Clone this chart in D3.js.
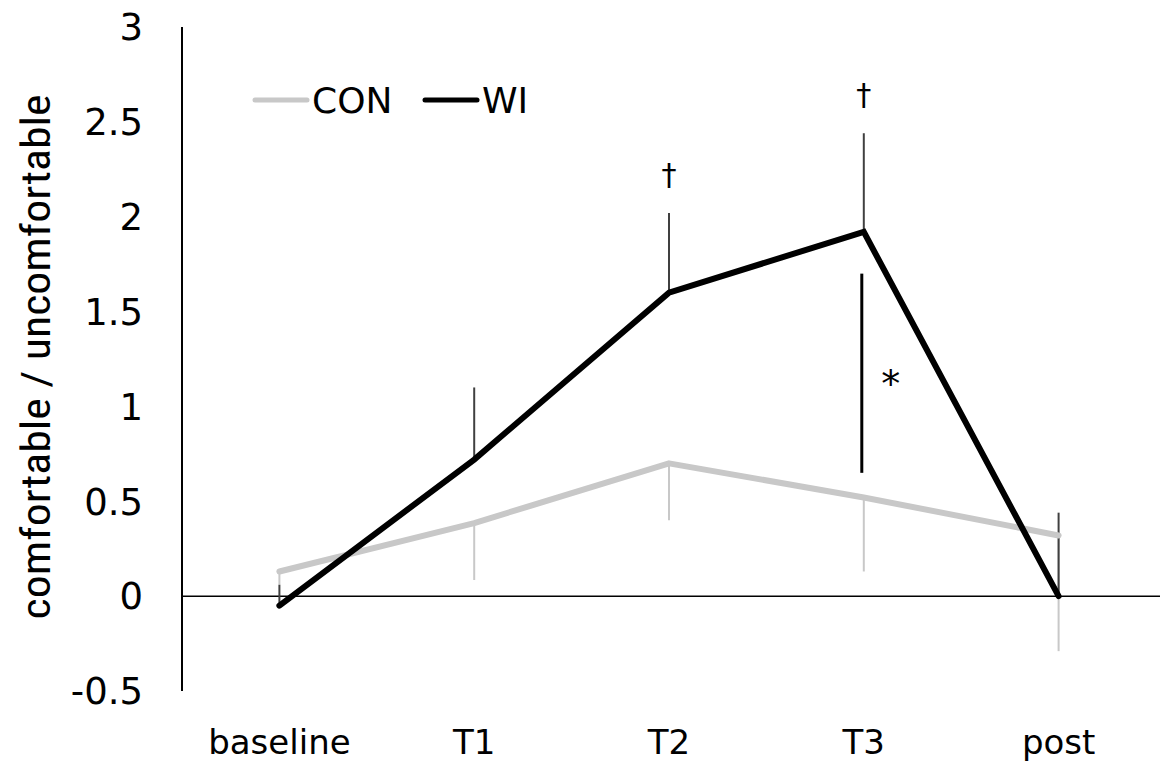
<!DOCTYPE html>
<html>
<head>
<meta charset="utf-8">
<script src="https://cdn.jsdelivr.net/npm/d3@7"></script>
<style>
  body { margin: 0; background: #fff; }
  text { font-family: "DejaVu Sans", Verdana, sans-serif; fill: #000; }
</style>
</head>
<body>
<div id="chart"></div>
<script>
// chart data
var categories = ["baseline", "T1", "T2", "T3", "post"];
var conValues = [0.13, 0.385, 0.70, 0.52, 0.32];
var conErrLow = [0.07, 0.30, 0.30, 0.39, 0.61];   // error drawn downward
var wiValues = [-0.05, 0.72, 1.60, 1.92, 0];
var wiErrHigh = [0.11, 0.38, 0.42, 0.52, 0.44];   // error drawn upward
var yTicks = [-0.5, 0, 0.5, 1, 1.5, 2, 2.5, 3];
var daggers = ["", "", "†", "†", ""];
var sigRange = [0.65, 1.7]; // significance bar at T3

var svgWidth = 1161;
var svgHeight = 763;

var svg = d3.select("#chart")
  .append("svg")
  .attr("width", svgWidth)
  .attr("height", svgHeight);

var xScale = d3.scaleBand()
  .domain(categories)
  .range([182, 1156]);

var yScale = d3.scaleLinear()
  .domain([-0.5, 3])
  .range([691, 27]);

var cx = d => xScale(d) + xScale.bandwidth() / 2;

// y axis line + tick labels
svg.append("line")
  .attr("x1", 182).attr("x2", 182)
  .attr("y1", yScale(3)).attr("y2", yScale(-0.5))
  .attr("stroke", "#000").attr("stroke-width", 2);

svg.selectAll(".ytick")
  .data(yTicks)
  .enter().append("text")
  .attr("x", 143)
  .attr("y", d => yScale(d))
  .attr("dy", "0.36em")
  .attr("text-anchor", "end")
  .style("font-size", "37px")
  .text(d => d);

// zero line
svg.append("line")
  .attr("x1", 182).attr("x2", 1160)
  .attr("y1", yScale(0)).attr("y2", yScale(0))
  .attr("stroke", "#000").attr("stroke-width", 1.5);

// category labels
svg.selectAll(".xlab")
  .data(categories)
  .enter().append("text")
  .attr("x", d => cx(d))
  .attr("y", 754)
  .attr("text-anchor", "middle")
  .style("font-size", "34px")
  .text(d => d);

// y axis title
svg.append("text")
  .attr("transform", "translate(50,357) rotate(-90)")
  .attr("text-anchor", "middle")
  .attr("textLength", 525)
  .attr("lengthAdjust", "spacingAndGlyphs")
  .style("font-family", "'Liberation Sans Narrow', 'Roboto Condensed', Roboto, sans-serif")
  .style("font-size", "40px")
  .text("comfortable / uncomfortable");

// CON error bars (down)
svg.selectAll(".conerr")
  .data(categories)
  .enter().append("line")
  .attr("x1", d => cx(d)).attr("x2", d => cx(d))
  .attr("y1", (d, i) => yScale(conValues[i]))
  .attr("y2", (d, i) => yScale(conValues[i] - conErrLow[i]))
  .attr("stroke", "#c8c8c8").attr("stroke-width", 2);

// WI error bars (up)
svg.selectAll(".wierr")
  .data(categories)
  .enter().append("line")
  .attr("x1", d => cx(d)).attr("x2", d => cx(d))
  .attr("y1", (d, i) => yScale(wiValues[i]))
  .attr("y2", (d, i) => yScale(wiValues[i] + wiErrHigh[i]))
  .attr("stroke", "#404040").attr("stroke-width", 2);

var line = d3.line()
  .x((d, i) => cx(categories[i]))
  .y(d => yScale(d));

svg.append("path")
  .attr("d", line(conValues))
  .attr("fill", "none")
  .attr("stroke", "#c8c8c8")
  .attr("stroke-width", 6)
  .attr("stroke-linejoin", "round")
  .attr("stroke-linecap", "round");

svg.append("path")
  .attr("d", line(wiValues))
  .attr("fill", "none")
  .attr("stroke", "#000")
  .attr("stroke-width", 6)
  .attr("stroke-linejoin", "miter")
  .attr("stroke-linecap", "round");

// daggers
svg.selectAll(".dagger")
  .data(categories)
  .enter().append("text")
  .attr("x", d => cx(d))
  .attr("y", (d, i) => yScale(wiValues[i] + wiErrHigh[i]) - 28)
  .attr("text-anchor", "middle")
  .style("font-size", "30px")
  .text((d, i) => daggers[i]);

// significance bar + asterisk
svg.append("line")
  .attr("x1", cx("T3") - 2).attr("x2", cx("T3") - 2)
  .attr("y1", yScale(sigRange[1])).attr("y2", yScale(sigRange[0]))
  .attr("stroke", "#000").attr("stroke-width", 3);

svg.append("text")
  .attr("x", cx("T3") + 27)
  .attr("y", yScale((sigRange[0] + sigRange[1]) / 2) + 24)
  .attr("text-anchor", "middle")
  .style("font-size", "38px")
  .text("*");

// legend
var legend = [
  { name: "CON", color: "#c8c8c8", x: 255 },
  { name: "WI", color: "#000", x: 425 }
];
var lg = svg.selectAll(".legend")
  .data(legend)
  .enter().append("g")
  .attr("transform", d => "translate(" + d.x + ",100)");
lg.append("line")
  .attr("x1", 0).attr("x2", 52)
  .attr("stroke", d => d.color)
  .attr("stroke-width", 5)
  .attr("stroke-linecap", "round");
lg.append("text")
  .attr("x", 57)
  .attr("dy", "0.36em")
  .style("font-size", "36px")
  .text(d => d.name);
</script>
</body>
</html>
